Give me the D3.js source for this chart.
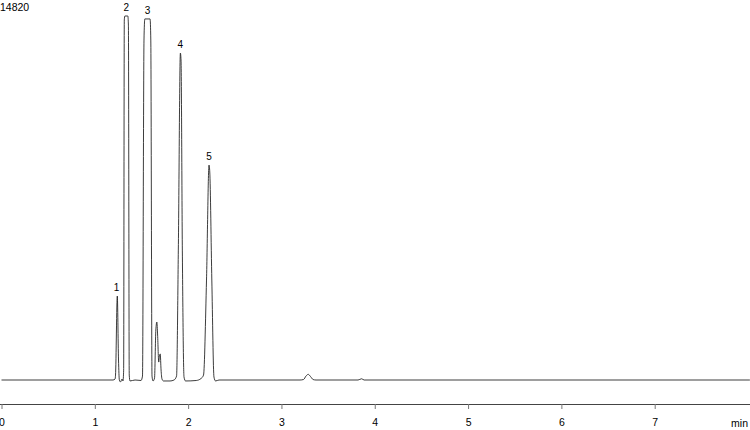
<!DOCTYPE html>
<html>
<head>
<meta charset="utf-8">
<script src="https://cdn.jsdelivr.net/npm/d3@7"></script>
<style>
  html, body { margin: 0; padding: 0; background: #fff; }
  svg { display: block; font-family: "Liberation Sans", Arial, sans-serif; }
</style>
</head>
<body>
<svg id="chart" width="750" height="430"></svg>
<script>
// trace vertices: retention time (min) and signal
const times = [
    0, 1.195, 1.217, 1.222, 1.241, 1.254, 1.263, 1.275, 1.292, 1.302,
    1.309, 1.316, 1.322, 1.354, 1.360, 1.369, 1.377, 1.431, 1.495,
    1.511, 1.527, 1.536, 1.592, 1.600, 1.613, 1.624,
    1.640, 1.654, 1.665, 1.673, 1.685, 1.693, 1.701, 1.710, 1.720, 1.736,
    1.806, 1.849,
    1.876, 1.895, 1.917, 1.924, 1.938, 1.956, 1.972,
    2.087, 2.138,
    2.165, 2.197, 2.224, 2.232, 2.254, 2.277, 2.294, 2.331,
    3.199, 3.237, 3.263, 3.287, 3.312, 3.339, 3.371,
    3.821, 3.859, 3.886, 8.02
];
const signal = [
    0, 0, 40, 200, 3420, 814, 0, -80, 40, -40,
    400, 14660, 14820, 14820, 14450, 200, -40, 0, -20,
    160, 13840, 14700, 14700, 13840, 160, -40,
    80, 2036, 2360, 1830, 730, 977, 1060, 407, 40, -40,
    -40, 0,
    160, 5290, 13310, 13030, 5290, 120, -40,
    -20, 60,
    200, 4070, 8750, 8470, 4070, 120, -40, 0,
    0, 20, 160, 230, 140, 20, 0,
    0, 50, 0, 0
];

// numbered peaks
const peakNames = ['1', '2', '3', '4', '5'];
const peakTimes = [1.233, 1.338, 1.564, 1.917, 2.224];

const axisTicks = [0, 1, 2, 3, 4, 5, 6, 7];
const axisUnit = 'min';
const yMaxLabel = 14820;

let svg = d3.select('#chart');

let x = d3.scaleLinear().domain([0, 8]).range([1.5, 748]);
let y = d3.scaleLinear().domain([0, yMaxLabel]).range([380, 16]);

let points = times.map((t, i) => ({t: t, s: signal[i]}));

let line = d3.line()
    .x(d => x(d.t))
    .y(d => y(d.s))
    .curve(d3.curveMonotoneX);

svg.append('path')
    .datum(points)
    .attr('fill', 'none')
    .attr('stroke', '#1a1a1a')
    .attr('stroke-width', 0.85)
    .attr('stroke-linejoin', 'round')
    .attr('d', line);

// label every peak just above its apex
peakNames.forEach((name, i) => {
    let near = points.filter(p => Math.abs(p.t - peakTimes[i]) < 0.035);
    let top = d3.max(near, p => p.s);
    svg.append('text')
        .attr('x', x(peakTimes[i]))
        .attr('y', y(top) - 5)
        .attr('text-anchor', 'middle')
        .attr('font-size', 10)
        .attr('fill', '#000')
        .text(name);
});

svg.append('text')
    .attr('x', 0)
    .attr('y', 11)
    .attr('font-size', 10.5)
    .attr('fill', '#000')
    .text(yMaxLabel);

// time axis
let axis = svg.append('g')
    .attr('transform', 'translate(0,404)')
    .call(d3.axisBottom(x).tickValues(axisTicks).tickSize(5).tickPadding(10).tickFormat(d3.format('d')));

axis.select('.domain')
    .attr('d', 'M0,0.5H750')
    .attr('stroke', '#444');
axis.selectAll('.tick line').attr('stroke', '#777');
axis.selectAll('.tick text')
    .attr('font-size', 10.5)
    .attr('font-family', '"Liberation Sans", Arial, sans-serif')
    .attr('fill', '#000');

svg.append('text')
    .attr('x', 748)
    .attr('y', 426.5)
    .attr('text-anchor', 'end')
    .attr('font-size', 10.5)
    .attr('fill', '#000')
    .text(axisUnit);
</script>
</body>
</html>
